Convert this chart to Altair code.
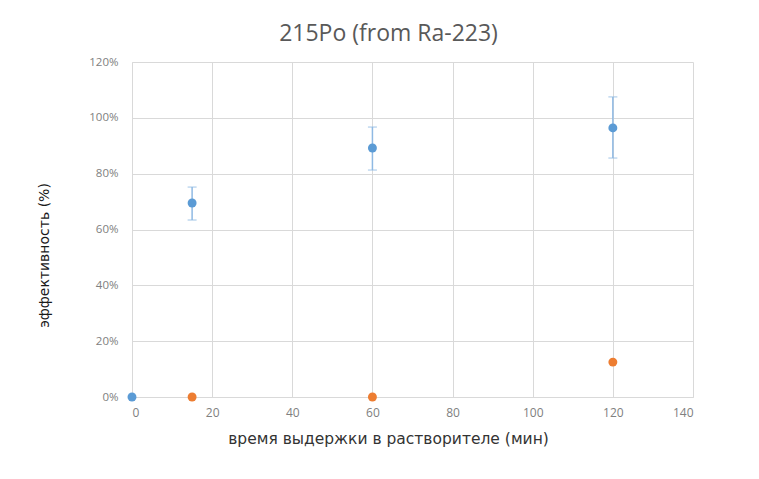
import altair as alt
import pandas as pd

# data
blue_x = [0, 15, 60, 120]
blue_y = [0.0, 0.695, 0.892, 0.964]
err_x = [15, 60, 120]
err_lo = [0.634, 0.813, 0.856]
err_hi = [0.752, 0.967, 1.075]
orange_x = [15, 60, 120]
orange_y = [0.0, 0.0, 0.125]
x_ticks = [0, 20, 40, 60, 80, 100, 120, 140]
y_ticks = [0, 0.2, 0.4, 0.6, 0.8, 1.0, 1.2]

BLUE = "#5b9bd5"
ORANGE = "#ed7d31"
ERR = "#8fb9e3"
FONT = "Open Sans"

blue_df = pd.DataFrame({"x": blue_x, "y": blue_y})
orange_df = pd.DataFrame({"x": orange_x, "y": orange_y})
err_df = pd.DataFrame({"x": err_x, "lo": err_lo, "hi": err_hi})

xs = alt.Scale(domain=[0, 140], nice=False)
ys = alt.Scale(domain=[0, 1.2], nice=False)

x_axis = alt.Axis(
    values=x_ticks, format="d", title="время выдержки в растворителе (мин)",
    grid=True, gridColor="#d9d9d9", domain=True, domainColor="#d9d9d9",
    ticks=False, labelColor="#808080", labelFont=FONT, labelFontSize=12,
    labelPadding=10, titleFont="DejaVu Sans", titleFontSize=15.5, titleFontWeight="normal",
    titleColor="#333333", titleX=256, titleY=34,
)
y_axis = alt.Axis(
    values=y_ticks, format=".0%", title="эффективность (%)",
    grid=True, gridColor="#d9d9d9", domain=True, domainColor="#d9d9d9",
    ticks=False, labelColor="#808080", labelFont=FONT, labelFontSize=11.5,
    labelPadding=14, titleFont="DejaVu Sans", titleFontSize=14,
    titleFontWeight="normal", titleColor="#1a1a1a",
    titleX=-81, titleY=193,
)

rules = alt.Chart(err_df).mark_rule(color=ERR, strokeWidth=1.5).encode(
    x=alt.X("x:Q", scale=xs, axis=x_axis),
    y=alt.Y("lo:Q", scale=ys, axis=y_axis),
    y2="hi:Q",
)
caps_lo = alt.Chart(err_df).mark_tick(color=ERR, orient="horizontal", size=9, thickness=1.2).encode(
    x=alt.X("x:Q", scale=xs), y=alt.Y("lo:Q", scale=ys)
)
caps_hi = alt.Chart(err_df).mark_tick(color=ERR, orient="horizontal", size=9, thickness=1.2).encode(
    x=alt.X("x:Q", scale=xs), y=alt.Y("hi:Q", scale=ys)
)
blue = alt.Chart(blue_df).mark_circle(color=BLUE, size=80, opacity=1).encode(
    x=alt.X("x:Q", scale=xs), y=alt.Y("y:Q", scale=ys)
)
orange = alt.Chart(orange_df).mark_circle(color=ORANGE, size=80, opacity=1).encode(
    x=alt.X("x:Q", scale=xs), y=alt.Y("y:Q", scale=ys)
)

chart = alt.layer(rules, caps_lo, caps_hi, blue, orange).properties(
    width=561, height=335,
    title=alt.TitleParams("215Po (from Ra-223)", font=FONT, fontSize=23,
                          fontWeight="normal", color="#595959", anchor="middle",
                          dx=-24, offset=10),
    autosize=alt.AutoSizeParams(type="none"),
    padding={"left": 124, "top": 54, "right": 58, "bottom": 74},
    background="white",
).configure_view(stroke=None)

chart.save("out.html", embed_options={"renderer": "svg", "actions": False})
